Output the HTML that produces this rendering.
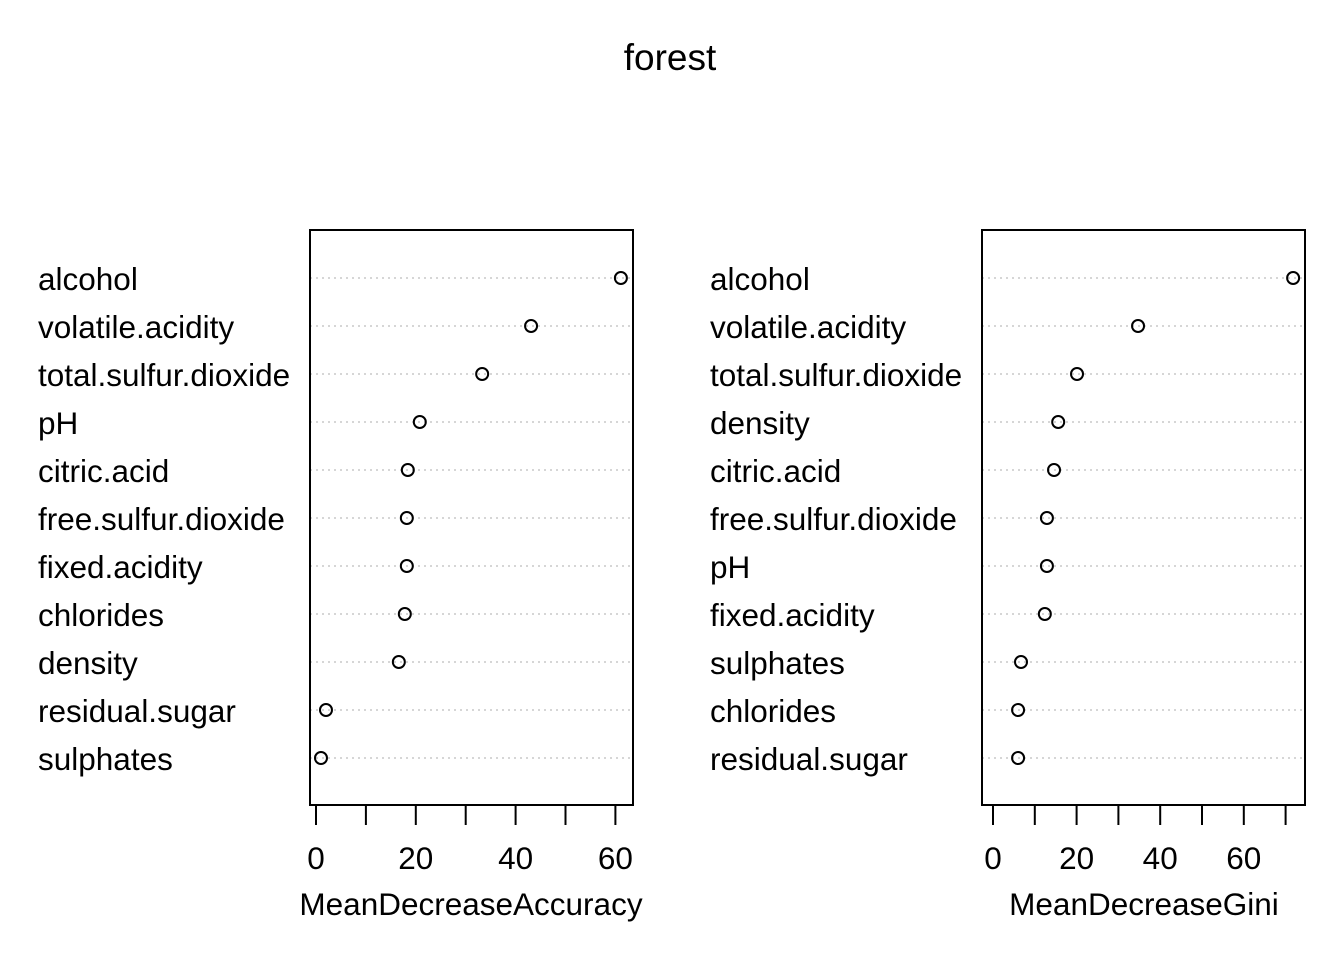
<!DOCTYPE html>
<html><head><meta charset="utf-8"><style>
html,body{margin:0;padding:0;background:#fff;}
svg{display:block;font-family:"Liberation Sans",Arial,sans-serif;}
</style></head><body>
<svg id="chart" width="1344" height="960" viewBox="0 0 1344 960">
<text x="670" y="70" font-size="37" text-anchor="middle">forest</text>
</svg>
<script>
const accLabels = ["alcohol","volatile.acidity","total.sulfur.dioxide","pH","citric.acid","free.sulfur.dioxide","fixed.acidity","chlorides","density","residual.sugar","sulphates"];
const accValues = [61.1,43.1,33.3,20.8,18.4,18.2,18.2,17.8,16.6,2.0,1.0];
const accTicks = [0,10,20,30,40,50,60];
const accTickLabels = [0,20,40,60];
const giniLabels = ["alcohol","volatile.acidity","total.sulfur.dioxide","density","citric.acid","free.sulfur.dioxide","pH","fixed.acidity","sulphates","chlorides","residual.sugar"];
const giniValues = [71.8,34.7,20.1,15.6,14.6,12.9,12.9,12.4,6.7,6.0,6.0];
const giniTicks = [0,10,20,30,40,50,60,70];
const giniTickLabels = [0,20,40,60];

const NS="http://www.w3.org/2000/svg";
const svg=document.getElementById('chart');
function mk(tag,attrs,parent){const e=document.createElementNS(NS,tag);for(const k in attrs)e.setAttribute(k,attrs[k]);(parent||svg).appendChild(e);return e;}
const FS=31.5;
function panel(cfg){
  const g=mk('g',{});
  
  
  const x=v=>cfg.x0+(v-0)*cfg.ppu;
  const y=i=>278+i*48;
  cfg.labels.forEach((lab,i)=>{
    const l=mk('line',{x1:cfg.bx1,x2:cfg.bx2,y1:y(i),y2:y(i),stroke:'#bebebe','stroke-width':1.3,'stroke-dasharray':'2,4'},g);
    
    
    const t=mk('text',{x:cfg.lx,y:y(i)+12,'font-size':FS},g);
    t.textContent=lab;
    
    
    const c=mk('circle',{cx:x(cfg.values[i]),cy:y(i),r:6,fill:'none',stroke:'#000','stroke-width':2},g);
    
    
  });
  const r=mk('rect',{x:cfg.bx1,y:230,width:cfg.bx2-cfg.bx1,height:575,fill:'none',stroke:'#000','stroke-width':2},g);
  
  
  const ax=mk('line',{x1:x(cfg.ticks[0]),x2:x(cfg.ticks[cfg.ticks.length-1]),y1:805,y2:805,stroke:'#000','stroke-width':2},g);
  
  
  cfg.ticks.forEach(v=>{
    const tk=mk('line',{x1:x(v),x2:x(v),y1:805,y2:825,stroke:'#000','stroke-width':2},g);
    
    
  });
  cfg.tickLabels.forEach(v=>{
    const t=mk('text',{x:x(v),y:869,'font-size':FS,'text-anchor':'middle'},g);
    t.textContent=v;
    
    
  });
  const at=mk('text',{x:cfg.titleX,y:915,'font-size':FS,'text-anchor':'middle'},g);
  at.textContent=cfg.title;
  
  
}
panel({name:'accuracy-panel',labels:accLabels,values:accValues,ticks:accTicks,tickLabels:accTickLabels,x0:316,ppu:4.99,bx1:310,bx2:633,lx:38,title:'MeanDecreaseAccuracy',titleX:471});
panel({name:'gini-panel',labels:giniLabels,values:giniValues,ticks:giniTicks,tickLabels:giniTickLabels,x0:993,ppu:4.18,bx1:982,bx2:1305,lx:710,title:'MeanDecreaseGini',titleX:1144});
</script>
</body></html>
